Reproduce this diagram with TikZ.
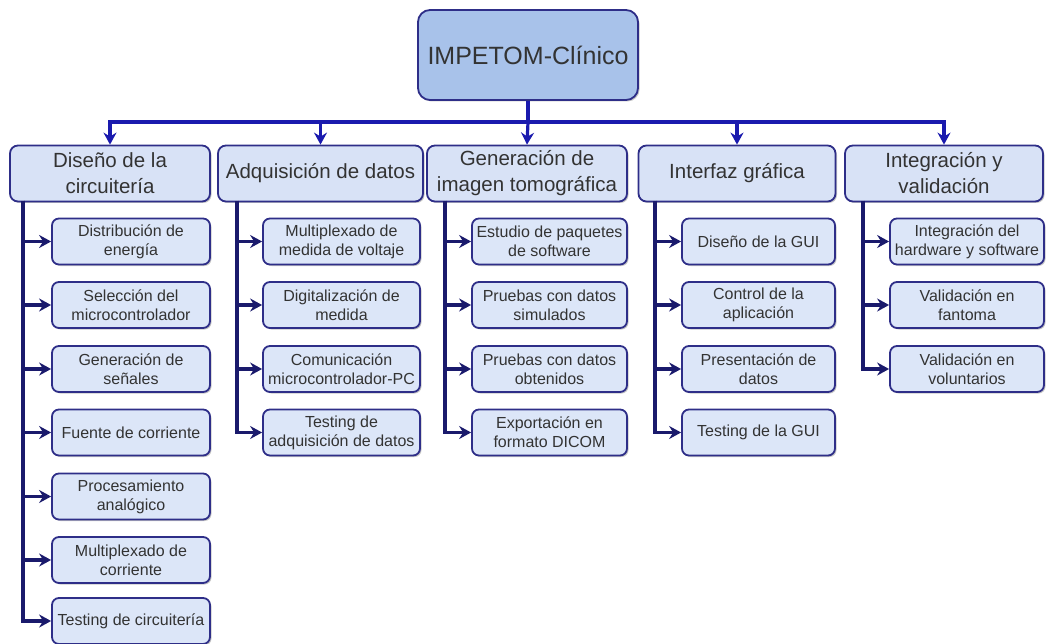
\documentclass[tikz,border=0pt]{standalone}
\usepackage{fontspec}
\setmainfont{Liberation Sans}
\usetikzlibrary{arrows.meta,shadows}

\definecolor{rootfill}{HTML}{A8C2EA}
\definecolor{boxfill}{HTML}{D8E2F6}
\definecolor{leaffill}{HTML}{DCE6F8}
\definecolor{boxline}{HTML}{2E2E88}
\definecolor{busblue}{HTML}{1A1AAE}
\definecolor{linknavy}{HTML}{1A1A6C}
\definecolor{txt}{HTML}{333333}

\tikzset{
  x=1pt, y=-1pt,
  boxbase/.style={draw=boxline, line width=1.8pt, text=txt, align=center,
    inner sep=0pt,
    drop shadow={shadow xshift=1.5pt, shadow yshift=-1.5pt, opacity=0.22, fill=black}},
  rootbox/.style={boxbase, fill=rootfill, rounded corners=12pt,
    minimum width=220pt, minimum height=90pt, font=\fontsize{25}{30}\selectfont},
  areabox/.style={boxbase, fill=boxfill, rounded corners=8pt,
    minimum height=56pt, font=\fontsize{20.5}{26}\selectfont},
  leafbox/.style={boxbase, fill=leaffill, rounded corners=7pt,
    minimum height=46pt, font=\fontsize{16}{19}\selectfont},
  tip/.style={-{Stealth[length=12pt,width=13pt,inset=4pt]}},
  busline/.style={draw=busblue, line width=3.2pt, tip},
  busplain/.style={draw=busblue, line width=3.2pt},
  branch/.style={draw=linknavy, line width=3.2pt, tip},
}

\begin{document}
\begin{tikzpicture}
\useasboundingbox (0,0) rectangle (1048,644);

% project root
\node[rootbox] (root) at (528,55) {IMPETOM-Clínico};

% work areas
\node[areabox, minimum width=200pt] (a1) at (110,173.5) {Diseño de la\\circuitería};
\node[areabox, minimum width=205pt] (a2) at (320.5,173.5) {Adquisición de datos};
\node[areabox, minimum width=200pt] (a3) at (527,173.5) {Generación de\\imagen tomográfica};
\node[areabox, minimum width=197pt] (a4) at (737,173.5) {Interfaz gráfica};
\node[areabox, minimum width=198pt] (a5) at (944,173.5) {Integración y\\validación};

% tasks: circuitry
\node[leafbox, minimum width=158pt] (d1) at (131,241.5) {Distribución de\\energía};
\node[leafbox, minimum width=158pt] (d2) at (131,305) {Selección del\\microcontrolador};
\node[leafbox, minimum width=158pt] (d3) at (131,369) {Generación de\\señales};
\node[leafbox, minimum width=158pt] (d4) at (131,432.5) {Fuente de corriente};
\node[leafbox, minimum width=158pt] (d5) at (131,496.5) {Procesamiento\\analógico};
\node[leafbox, minimum width=158pt] (d6) at (131,560) {Multiplexado de\\corriente};
\node[leafbox, minimum width=158pt] (d7) at (131,621) {Testing de circuitería};

% tasks: data acquisition
\node[leafbox, minimum width=157pt] (q1) at (341.5,241.5) {Multiplexado de\\medida de voltaje};
\node[leafbox, minimum width=157pt] (q2) at (341.5,305) {Digitalización de\\medida};
\node[leafbox, minimum width=157pt] (q3) at (341.5,369) {Comunicación\\microcontrolador-PC};
\node[leafbox, minimum width=157pt] (q4) at (341.5,432.5) {Testing de\\adquisición de datos};

% tasks: image reconstruction
\node[leafbox, minimum width=155pt] (g1) at (549.5,241.5) {Estudio de paquetes\\de software};
\node[leafbox, minimum width=155pt] (g2) at (549.5,305) {Pruebas con datos\\simulados};
\node[leafbox, minimum width=155pt] (g3) at (549.5,369) {Pruebas con datos\\obtenidos};
\node[leafbox, minimum width=155pt] (g4) at (549.5,432.5) {Exportación en\\formato DICOM};

% tasks: user interface
\node[leafbox, minimum width=153pt] (i1) at (758.5,241.5) {Diseño de la GUI};
\node[leafbox, minimum width=153pt] (i2) at (758.5,305) {Control de la\\aplicación};
\node[leafbox, minimum width=153pt] (i3) at (758.5,369) {Presentación de\\datos};
\node[leafbox, minimum width=153pt] (i4) at (758.5,432.5) {Testing de la GUI};

% tasks: integration
\node[leafbox, minimum width=154pt] (v1) at (967,241.5) {Integración del\\hardware y software};
\node[leafbox, minimum width=154pt] (v2) at (967,305) {Validación en\\fantoma};
\node[leafbox, minimum width=154pt] (v3) at (967,369) {Validación en\\voluntarios};

% distribution bus below the root
\coordinate (hub) at (528,122);
\draw[busplain] (root.south) -- (hub);
\draw[busline] (hub) -| (a1.north);
\draw[busline] (hub) -| (a2.north);
\draw[busline] (hub) -- (a3.north);
\draw[busline] (hub) -| (a4.north);
\draw[busline] (hub) -| (a5.north);

% trunk start points under each area
\coordinate (t1) at (23,201);
\coordinate (t2) at (237,201);
\coordinate (t3) at (445,201);
\coordinate (t4) at (655,201);
\coordinate (t5) at (863,201);

\foreach \n in {d1,d2,d3,d4,d5,d6,d7} \draw[branch] (t1) |- (\n.west);
\foreach \n in {q1,q2,q3,q4} \draw[branch] (t2) |- (\n.west);
\foreach \n in {g1,g2,g3,g4} \draw[branch] (t3) |- (\n.west);
\foreach \n in {i1,i2,i3,i4} \draw[branch] (t4) |- (\n.west);
\foreach \n in {v1,v2,v3} \draw[branch] (t5) |- (\n.west);
\end{tikzpicture}
\end{document}
